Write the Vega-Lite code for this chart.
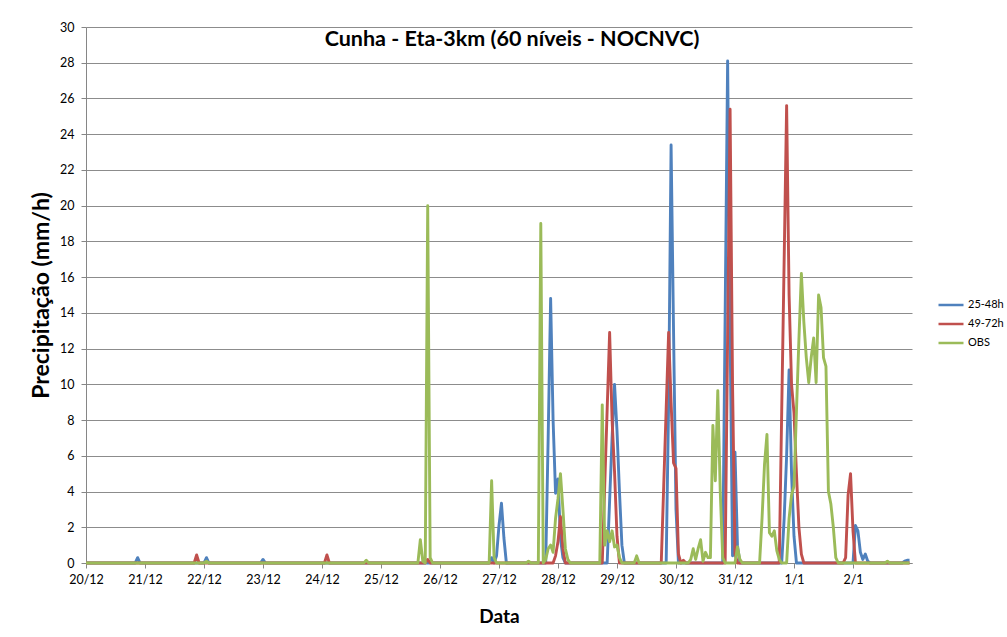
{
"$schema":"https://vega.github.io/schema/vega-lite/v6.json",
"width":826,"height":536,
"autosize":{"type":"none"},
"padding":{"left":86,"top":27,"right":95,"bottom":74},
"background":"white",
"config":{"view":{"stroke":null},"font":"Lato"},
"title":{"text":"Cunha - Eta-3km (60 níveis - NOCNVC)","font":"Lato","fontSize":21.5,"fontWeight":"bold","color":"#000","anchor":"middle","offset":-29,"dx":13},
"data":{"values":[
{"s":"25-48h","t":"2012-12-20T00:00","v":0},
{"s":"25-48h","t":"2012-12-20T20:00","v":0},{"s":"25-48h","t":"2012-12-20T21:00","v":0.3},{"s":"25-48h","t":"2012-12-20T22:00","v":0},
{"s":"25-48h","t":"2012-12-22T00:00","v":0},{"s":"25-48h","t":"2012-12-22T01:00","v":0.3},{"s":"25-48h","t":"2012-12-22T02:00","v":0},
{"s":"25-48h","t":"2012-12-22T23:00","v":0},{"s":"25-48h","t":"2012-12-23T00:00","v":0.2},{"s":"25-48h","t":"2012-12-23T01:00","v":0},
{"s":"25-48h","t":"2012-12-26T20:00","v":0},{"s":"25-48h","t":"2012-12-26T21:00","v":0.3},{"s":"25-48h","t":"2012-12-26T22:00","v":0},{"s":"25-48h","t":"2012-12-26T23:00","v":0.4},{"s":"25-48h","t":"2012-12-27T00:00","v":2.1},{"s":"25-48h","t":"2012-12-27T01:00","v":3.35},{"s":"25-48h","t":"2012-12-27T02:00","v":1.4},{"s":"25-48h","t":"2012-12-27T03:00","v":0},
{"s":"25-48h","t":"2012-12-27T19:00","v":0},{"s":"25-48h","t":"2012-12-27T20:00","v":7},{"s":"25-48h","t":"2012-12-27T21:00","v":14.8},{"s":"25-48h","t":"2012-12-27T22:00","v":8},{"s":"25-48h","t":"2012-12-27T23:00","v":3.9},{"s":"25-48h","t":"2012-12-28T00:00","v":4.7},{"s":"25-48h","t":"2012-12-28T01:00","v":1.4},{"s":"25-48h","t":"2012-12-28T02:00","v":0.3},{"s":"25-48h","t":"2012-12-28T03:00","v":0},
{"s":"25-48h","t":"2012-12-28T20:00","v":0},{"s":"25-48h","t":"2012-12-28T21:00","v":3.5},{"s":"25-48h","t":"2012-12-28T22:00","v":7},{"s":"25-48h","t":"2012-12-28T23:00","v":10},{"s":"25-48h","t":"2012-12-29T00:00","v":7.4},{"s":"25-48h","t":"2012-12-29T01:00","v":4},{"s":"25-48h","t":"2012-12-29T02:00","v":1},{"s":"25-48h","t":"2012-12-29T03:00","v":0},
{"s":"25-48h","t":"2012-12-29T20:00","v":0},{"s":"25-48h","t":"2012-12-29T21:00","v":9},{"s":"25-48h","t":"2012-12-29T22:00","v":23.4},{"s":"25-48h","t":"2012-12-29T23:00","v":13},{"s":"25-48h","t":"2012-12-30T00:00","v":3},{"s":"25-48h","t":"2012-12-30T01:00","v":0},
{"s":"25-48h","t":"2012-12-30T19:00","v":0},{"s":"25-48h","t":"2012-12-30T20:00","v":14},{"s":"25-48h","t":"2012-12-30T21:00","v":28.1},{"s":"25-48h","t":"2012-12-30T22:00","v":13},{"s":"25-48h","t":"2012-12-30T23:00","v":0.4},{"s":"25-48h","t":"2012-12-31T00:00","v":6.2},{"s":"25-48h","t":"2012-12-31T01:00","v":1},{"s":"25-48h","t":"2012-12-31T02:00","v":0},
{"s":"25-48h","t":"2012-12-31T19:00","v":0},{"s":"25-48h","t":"2012-12-31T20:00","v":2.5},{"s":"25-48h","t":"2012-12-31T21:00","v":6},{"s":"25-48h","t":"2012-12-31T22:00","v":10.8},{"s":"25-48h","t":"2012-12-31T23:00","v":5},{"s":"25-48h","t":"2013-01-01T00:00","v":1.5},{"s":"25-48h","t":"2013-01-01T01:00","v":0},
{"s":"25-48h","t":"2013-01-02T00:00","v":0},{"s":"25-48h","t":"2013-01-02T01:00","v":2.1},{"s":"25-48h","t":"2013-01-02T02:00","v":1.8},{"s":"25-48h","t":"2013-01-02T03:00","v":0.6},{"s":"25-48h","t":"2013-01-02T04:00","v":0.2},{"s":"25-48h","t":"2013-01-02T05:00","v":0.5},{"s":"25-48h","t":"2013-01-02T06:00","v":0.1},{"s":"25-48h","t":"2013-01-02T07:00","v":0},
{"s":"25-48h","t":"2013-01-02T20:00","v":0},{"s":"25-48h","t":"2013-01-02T21:00","v":0.1},{"s":"25-48h","t":"2013-01-02T22:00","v":0.15},{"s":"25-48h","t":"2013-01-02T23:00","v":0.15},
{"s":"49-72h","t":"2012-12-20T00:00","v":0},
{"s":"49-72h","t":"2012-12-21T20:00","v":0},{"s":"49-72h","t":"2012-12-21T21:00","v":0.45},{"s":"49-72h","t":"2012-12-21T22:00","v":0},
{"s":"49-72h","t":"2012-12-24T01:00","v":0},{"s":"49-72h","t":"2012-12-24T02:00","v":0.45},{"s":"49-72h","t":"2012-12-24T03:00","v":0},
{"s":"49-72h","t":"2012-12-25T18:00","v":0},{"s":"49-72h","t":"2012-12-25T19:00","v":0.2},{"s":"49-72h","t":"2012-12-25T20:00","v":0},
{"s":"49-72h","t":"2012-12-27T22:00","v":0},{"s":"49-72h","t":"2012-12-27T23:00","v":0.4},{"s":"49-72h","t":"2012-12-28T00:00","v":1.2},{"s":"49-72h","t":"2012-12-28T01:00","v":2.6},{"s":"49-72h","t":"2012-12-28T02:00","v":0.8},{"s":"49-72h","t":"2012-12-28T03:00","v":0},
{"s":"49-72h","t":"2012-12-28T18:00","v":0},{"s":"49-72h","t":"2012-12-28T19:00","v":4.3},{"s":"49-72h","t":"2012-12-28T20:00","v":8.6},{"s":"49-72h","t":"2012-12-28T21:00","v":12.9},{"s":"49-72h","t":"2012-12-28T22:00","v":8},{"s":"49-72h","t":"2012-12-28T23:00","v":5.1},{"s":"49-72h","t":"2012-12-29T00:00","v":1.5},{"s":"49-72h","t":"2012-12-29T01:00","v":0},
{"s":"49-72h","t":"2012-12-29T18:00","v":0},{"s":"49-72h","t":"2012-12-29T19:00","v":4.3},{"s":"49-72h","t":"2012-12-29T20:00","v":8.6},{"s":"49-72h","t":"2012-12-29T21:00","v":12.9},{"s":"49-72h","t":"2012-12-29T22:00","v":9},{"s":"49-72h","t":"2012-12-29T23:00","v":5.6},{"s":"49-72h","t":"2012-12-30T00:00","v":5.3},{"s":"49-72h","t":"2012-12-30T01:00","v":0.5},{"s":"49-72h","t":"2012-12-30T02:00","v":0},{"s":"49-72h","t":"2012-12-30T03:00","v":0.15},{"s":"49-72h","t":"2012-12-30T04:00","v":0},
{"s":"49-72h","t":"2012-12-30T20:00","v":0},{"s":"49-72h","t":"2012-12-30T21:00","v":12.7},{"s":"49-72h","t":"2012-12-30T22:00","v":25.4},{"s":"49-72h","t":"2012-12-30T23:00","v":10},{"s":"49-72h","t":"2012-12-31T00:00","v":0.5},{"s":"49-72h","t":"2012-12-31T01:00","v":0},
{"s":"49-72h","t":"2012-12-31T18:00","v":0},{"s":"49-72h","t":"2012-12-31T19:00","v":8.5},{"s":"49-72h","t":"2012-12-31T20:00","v":17},{"s":"49-72h","t":"2012-12-31T21:00","v":25.6},{"s":"49-72h","t":"2012-12-31T22:00","v":15},{"s":"49-72h","t":"2012-12-31T23:00","v":10},{"s":"49-72h","t":"2013-01-01T00:00","v":8.4},{"s":"49-72h","t":"2013-01-01T01:00","v":5},{"s":"49-72h","t":"2013-01-01T02:00","v":2},{"s":"49-72h","t":"2013-01-01T03:00","v":0.5},{"s":"49-72h","t":"2013-01-01T04:00","v":0},
{"s":"49-72h","t":"2013-01-01T20:00","v":0},{"s":"49-72h","t":"2013-01-01T21:00","v":0.3},{"s":"49-72h","t":"2013-01-01T22:00","v":3.8},{"s":"49-72h","t":"2013-01-01T23:00","v":5},{"s":"49-72h","t":"2013-01-02T00:00","v":1.8},{"s":"49-72h","t":"2013-01-02T01:00","v":0},
{"s":"49-72h","t":"2013-01-02T23:00","v":0},
{"s":"OBS","t":"2012-12-20T00:00","v":0},
{"s":"OBS","t":"2012-12-22T00:00","v":0},{"s":"OBS","t":"2012-12-22T01:00","v":0.1},{"s":"OBS","t":"2012-12-22T02:00","v":0},
{"s":"OBS","t":"2012-12-24T17:00","v":0},{"s":"OBS","t":"2012-12-24T18:00","v":0.15},{"s":"OBS","t":"2012-12-24T19:00","v":0},
{"s":"OBS","t":"2012-12-25T15:00","v":0},{"s":"OBS","t":"2012-12-25T16:00","v":1.3},{"s":"OBS","t":"2012-12-25T17:00","v":0.1},{"s":"OBS","t":"2012-12-25T18:00","v":0},{"s":"OBS","t":"2012-12-25T19:00","v":20},{"s":"OBS","t":"2012-12-25T20:00","v":0.3},{"s":"OBS","t":"2012-12-25T21:00","v":0},
{"s":"OBS","t":"2012-12-26T20:00","v":0},{"s":"OBS","t":"2012-12-26T21:00","v":4.6},{"s":"OBS","t":"2012-12-26T22:00","v":0.3},{"s":"OBS","t":"2012-12-26T23:00","v":0},
{"s":"OBS","t":"2012-12-27T11:00","v":0},{"s":"OBS","t":"2012-12-27T12:00","v":0.1},{"s":"OBS","t":"2012-12-27T13:00","v":0},
{"s":"OBS","t":"2012-12-27T16:00","v":0},{"s":"OBS","t":"2012-12-27T17:00","v":19},{"s":"OBS","t":"2012-12-27T18:00","v":0},{"s":"OBS","t":"2012-12-27T19:00","v":0.2},{"s":"OBS","t":"2012-12-27T20:00","v":0.8},{"s":"OBS","t":"2012-12-27T21:00","v":1},{"s":"OBS","t":"2012-12-27T22:00","v":0.6},{"s":"OBS","t":"2012-12-27T23:00","v":2.5},{"s":"OBS","t":"2012-12-28T00:00","v":3.6},{"s":"OBS","t":"2012-12-28T01:00","v":5},{"s":"OBS","t":"2012-12-28T02:00","v":3},{"s":"OBS","t":"2012-12-28T03:00","v":0.8},{"s":"OBS","t":"2012-12-28T04:00","v":0.2},{"s":"OBS","t":"2012-12-28T05:00","v":0},
{"s":"OBS","t":"2012-12-28T17:00","v":0},{"s":"OBS","t":"2012-12-28T18:00","v":8.85},{"s":"OBS","t":"2012-12-28T19:00","v":1},{"s":"OBS","t":"2012-12-28T20:00","v":1.8},{"s":"OBS","t":"2012-12-28T21:00","v":1.2},{"s":"OBS","t":"2012-12-28T22:00","v":1.8},{"s":"OBS","t":"2012-12-28T23:00","v":0.9},{"s":"OBS","t":"2012-12-29T00:00","v":1},{"s":"OBS","t":"2012-12-29T01:00","v":0.3},{"s":"OBS","t":"2012-12-29T02:00","v":0},
{"s":"OBS","t":"2012-12-29T07:00","v":0},{"s":"OBS","t":"2012-12-29T08:00","v":0.4},{"s":"OBS","t":"2012-12-29T09:00","v":0},
{"s":"OBS","t":"2012-12-30T05:00","v":0},{"s":"OBS","t":"2012-12-30T06:00","v":0.2},{"s":"OBS","t":"2012-12-30T07:00","v":0.8},{"s":"OBS","t":"2012-12-30T08:00","v":0.2},{"s":"OBS","t":"2012-12-30T09:00","v":0.8},{"s":"OBS","t":"2012-12-30T10:00","v":1.3},{"s":"OBS","t":"2012-12-30T11:00","v":0.1},{"s":"OBS","t":"2012-12-30T12:00","v":0.6},{"s":"OBS","t":"2012-12-30T13:00","v":0.3},{"s":"OBS","t":"2012-12-30T14:00","v":0.3},{"s":"OBS","t":"2012-12-30T15:00","v":7.7},{"s":"OBS","t":"2012-12-30T16:00","v":4.6},{"s":"OBS","t":"2012-12-30T17:00","v":9.65},{"s":"OBS","t":"2012-12-30T18:00","v":4},{"s":"OBS","t":"2012-12-30T19:00","v":0.3},{"s":"OBS","t":"2012-12-30T20:00","v":0},
{"s":"OBS","t":"2012-12-31T00:00","v":0},{"s":"OBS","t":"2012-12-31T01:00","v":0.9},{"s":"OBS","t":"2012-12-31T02:00","v":0.2},{"s":"OBS","t":"2012-12-31T03:00","v":0},
{"s":"OBS","t":"2012-12-31T10:00","v":0},{"s":"OBS","t":"2012-12-31T11:00","v":2.5},{"s":"OBS","t":"2012-12-31T12:00","v":5.5},{"s":"OBS","t":"2012-12-31T13:00","v":7.2},{"s":"OBS","t":"2012-12-31T14:00","v":1.7},{"s":"OBS","t":"2012-12-31T15:00","v":1.5},{"s":"OBS","t":"2012-12-31T16:00","v":1.8},{"s":"OBS","t":"2012-12-31T17:00","v":0.7},{"s":"OBS","t":"2012-12-31T18:00","v":0.2},{"s":"OBS","t":"2012-12-31T19:00","v":0},
{"s":"OBS","t":"2012-12-31T21:00","v":0},{"s":"OBS","t":"2012-12-31T22:00","v":2.5},{"s":"OBS","t":"2012-12-31T23:00","v":3.8},{"s":"OBS","t":"2013-01-01T00:00","v":4.3},{"s":"OBS","t":"2013-01-01T01:00","v":8.5},{"s":"OBS","t":"2013-01-01T02:00","v":12.5},{"s":"OBS","t":"2013-01-01T03:00","v":16.2},{"s":"OBS","t":"2013-01-01T04:00","v":13.5},{"s":"OBS","t":"2013-01-01T05:00","v":11.5},{"s":"OBS","t":"2013-01-01T06:00","v":10.1},{"s":"OBS","t":"2013-01-01T07:00","v":11.5},{"s":"OBS","t":"2013-01-01T08:00","v":12.6},{"s":"OBS","t":"2013-01-01T09:00","v":10.1},{"s":"OBS","t":"2013-01-01T10:00","v":15},{"s":"OBS","t":"2013-01-01T11:00","v":14.3},{"s":"OBS","t":"2013-01-01T12:00","v":11.5},{"s":"OBS","t":"2013-01-01T13:00","v":11},{"s":"OBS","t":"2013-01-01T14:00","v":4},{"s":"OBS","t":"2013-01-01T15:00","v":3.3},{"s":"OBS","t":"2013-01-01T16:00","v":2},{"s":"OBS","t":"2013-01-01T17:00","v":0.3},{"s":"OBS","t":"2013-01-01T18:00","v":0},
{"s":"OBS","t":"2013-01-02T13:00","v":0},{"s":"OBS","t":"2013-01-02T14:00","v":0.1},{"s":"OBS","t":"2013-01-02T15:00","v":0},
{"s":"OBS","t":"2013-01-02T23:00","v":0}
]},
"mark":{"type":"line","strokeWidth":2.9,"strokeJoin":"round"},
"encoding":{
"x":{"field":"t","type":"temporal",
 "scale":{"domain":[{"year":2012,"month":12,"date":20},{"year":2013,"month":1,"date":3}],"nice":false},
 "axis":{"title":"Data","titleFont":"Lato","titleFontSize":19,"titleFontWeight":"bold","titleColor":"#000","titlePadding":22,
  "values":[{"year":2012,"month":12,"date":20},{"year":2012,"month":12,"date":21},{"year":2012,"month":12,"date":22},{"year":2012,"month":12,"date":23},{"year":2012,"month":12,"date":24},{"year":2012,"month":12,"date":25},{"year":2012,"month":12,"date":26},{"year":2012,"month":12,"date":27},{"year":2012,"month":12,"date":28},{"year":2012,"month":12,"date":29},{"year":2012,"month":12,"date":30},{"year":2012,"month":12,"date":31},{"year":2013,"month":1,"date":1},{"year":2013,"month":1,"date":2}],
  "format":"%-d/%-m","labelFont":"Lato","labelFontSize":12.5,"labelColor":"#000","labelFlush":false,"labelOverlap":false,"labelPadding":5,
  "grid":false,"tickSize":5,"tickColor":"#868686","domainColor":"#868686"}},
"y":{"field":"v","type":"quantitative",
 "scale":{"domain":[0,30],"nice":false},
 "axis":{"title":"Precipitação (mm/h)","titleFont":"Lato","titleFontSize":23,"titleFontWeight":"bold","titleColor":"#000","titlePadding":6,
  "values":[0,2,4,6,8,10,12,14,16,18,20,22,24,26,28,30],
  "labelFont":"Lato","labelFontSize":12.5,"labelColor":"#000","labelPadding":7,
  "grid":true,"gridColor":"#8c8c8c","gridWidth":1,"tickSize":5,"tickColor":"#868686","domainColor":"#868686"}},
"color":{"field":"s","type":"nominal",
 "scale":{"domain":["25-48h","49-72h","OBS"],"range":["#4F81BD","#C0504D","#9BBB59"]},
 "legend":{"title":null,"orient":"none","legendX":851,"legendY":264,"symbolType":"stroke","symbolSize":625,"symbolStrokeWidth":2.5,"labelFont":"Lato","labelFontSize":11,"labelColor":"#000","labelOffset":3,"rowPadding":0}}
}
}
